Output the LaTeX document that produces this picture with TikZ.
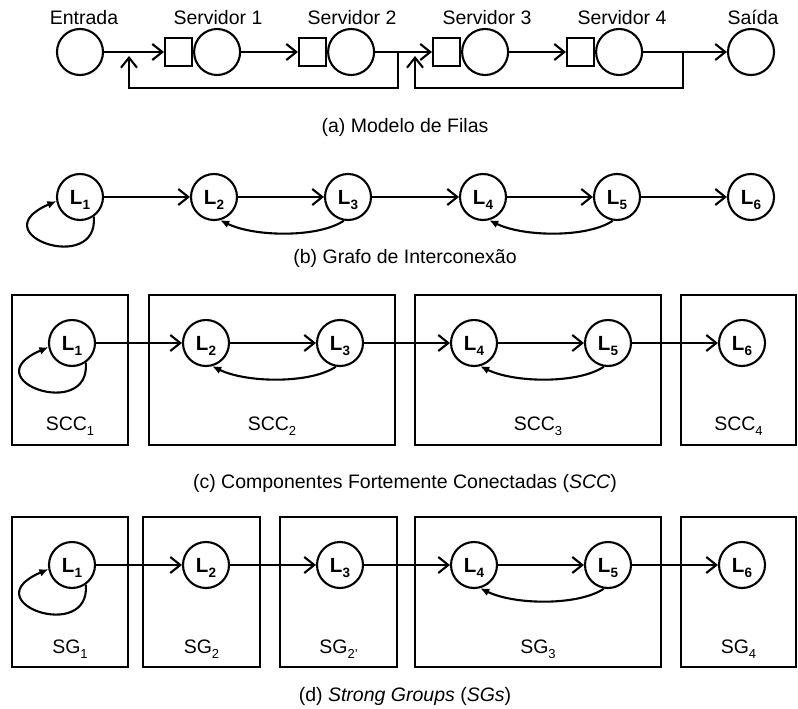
\documentclass[tikz,border=0pt]{standalone}
\usepackage{fontspec}
\setmainfont{Liberation Sans}
\usetikzlibrary{arrows.meta}
\newcommand\Lsub[1]{L\raisebox{-5pt}[0pt][0pt]{\fontsize{13.5}{14}\selectfont #1}}
\newcommand\Tsub[1]{\raisebox{-5pt}{\fontsize{13}{14}\selectfont #1}}
\begin{document}
\begin{tikzpicture}[x=1pt,y=-1pt,
  circ/.style={circle, draw, line width=2.1pt, minimum size=46pt, inner sep=0pt},
  sq/.style={rectangle, draw, line width=2.1pt, minimum width=27pt, minimum height=28pt, inner sep=0pt},
  lnode/.style={circ, font=\fontsize{20.5}{20}\selectfont\bfseries},
  txt/.style={font=\fontsize{19.5}{22}\selectfont, anchor=base, inner sep=0pt},
  grp/.style={draw, line width=1.6pt, inner sep=0pt},
  fwd/.style={line width=2.1pt, -{Straight Barb[length=10pt,width=16pt]}},
  bck/.style={line width=2.1pt, -{Latex[length=9pt,width=8pt]}},
]
\useasboundingbox (0,0) rectangle (798,709);

% ---------------- (a) ----------------
\node[circ] (ent) at (80,52) {};
\node[sq] (q1) at (178.5,52) {};
\node[circ, anchor=west] (s1) at (q1.east) {};
\node[sq] (q2) at (312.5,52) {};
\node[circ, anchor=west] (s2) at (q2.east) {};
\node[sq] (q3) at (446.5,52) {};
\node[circ, anchor=west] (s3) at (q3.east) {};
\node[sq] (q4) at (580.5,52) {};
\node[circ, anchor=west] (s4) at (q4.east) {};
\node[circ] (sai) at (751,52) {};

\node[txt] (tent) at (84,25) {Entrada};
\node[txt] (ts1) at (218,25) {Servidor 1};
\node[txt] (ts2) at (352,25) {Servidor 2};
\node[txt] (ts3) at (487,25) {Servidor 3};
\node[txt] (ts4) at (622,25) {Servidor 4};
\node[txt] (tsai) at (753,25) {Saída};

\coordinate (j1) at (398,52);
\coordinate (j1b) at (398,88);
\coordinate (f1b) at (129,88);
\coordinate (f1t) at (129,56);
\coordinate (j2) at (683,52);
\coordinate (j2b) at (683,88);
\coordinate (f2b) at (415,88);
\coordinate (f2t) at (415,56);

\draw[fwd] (ent) -- (q1);
\draw[fwd] (s1) -- (q2);
\draw[fwd] (s2) -- (q3);
\draw[fwd] (s3) -- (q4);
\draw[fwd] (s4) -- (sai);
\draw[fwd] (j1) -- (j1b) -- (f1b) -- (f1t);
\draw[fwd] (j2) -- (j2b) -- (f2b) -- (f2t);

\node[txt] (capa) at (405,132) {(a) Modelo de Filas};

% ---------------- (b) ----------------
\node[lnode] (b1) at (80,197) {\Lsub{1}};
\node[lnode] (b2) at (214,197) {\Lsub{2}};
\node[lnode] (b3) at (348,197) {\Lsub{3}};
\node[lnode] (b4) at (483,197) {\Lsub{4}};
\node[lnode] (b5) at (617,197) {\Lsub{5}};
\node[lnode] (b6) at (751,197) {\Lsub{6}};
\draw[fwd] (b1) -- (b2);
\draw[fwd] (b2) -- (b3);
\draw[fwd] (b3) -- (b4);
\draw[fwd] (b4) -- (b5);
\draw[fwd] (b5) -- (b6);
\draw[bck] (b1.-55) .. controls +(5,59) and +(-77,33) .. (b1.190);
\draw[bck] (b3.-100) .. controls +(-25,17) and +(35,17) .. (b2.-75);
\draw[bck] (b5.-100) .. controls +(-25,17) and +(35,17) .. (b4.-75);
\node[txt] (capb) at (405,263) {(b) Grafo de Interconexão};

% ---------------- (c) ----------------
\node[grp, minimum width=116pt, minimum height=150pt] (c1) at (70,370) {};
\node[grp, minimum width=246pt, minimum height=150pt] (c2) at (272,370) {};
\node[grp, minimum width=246pt, minimum height=150pt] (c3) at (538,370) {};
\node[grp, minimum width=115pt, minimum height=150pt] (c4) at (738.5,370) {};
\node[lnode] (cl1) at (72,343) {\Lsub{1}};
\node[lnode] (cl2) at (206,343) {\Lsub{2}};
\node[lnode] (cl3) at (340,343) {\Lsub{3}};
\node[lnode] (cl4) at (474,343) {\Lsub{4}};
\node[lnode] (cl5) at (608,343) {\Lsub{5}};
\node[lnode] (cl6) at (742,343) {\Lsub{6}};
\draw[fwd] (cl1) -- (cl2);
\draw[fwd] (cl2) -- (cl3);
\draw[fwd] (cl3) -- (cl4);
\draw[fwd] (cl4) -- (cl5);
\draw[fwd] (cl5) -- (cl6);
\draw[bck] (cl1.-55) .. controls +(5,59) and +(-77,33) .. (cl1.190);
\draw[bck] (cl3.-100) .. controls +(-25,17) and +(35,17) .. (cl2.-75);
\draw[bck] (cl5.-100) .. controls +(-25,17) and +(35,17) .. (cl4.-75);
\node[txt] (tc1) at (70,430) {SCC\Tsub{1}};
\node[txt] (tc2) at (272,430) {SCC\Tsub{2}};
\node[txt] (tc3) at (538,430) {SCC\Tsub{3}};
\node[txt] (tc4) at (738.5,430) {SCC\Tsub{4}};
\node[txt] (capc) at (405,488) {(c) Componentes Fortemente Conectadas (\textit{SCC})};

% ---------------- (d) ----------------
\node[grp, minimum width=116pt, minimum height=150pt] (d1) at (70,592) {};
\node[grp, minimum width=117pt, minimum height=150pt] (d2) at (201.5,592) {};
\node[grp, minimum width=117pt, minimum height=150pt] (d22) at (338.5,592) {};
\node[grp, minimum width=246pt, minimum height=150pt] (d3) at (538,592) {};
\node[grp, minimum width=115pt, minimum height=150pt] (d4) at (738.5,592) {};
\node[lnode] (dl1) at (72,565) {\Lsub{1}};
\node[lnode] (dl2) at (206,565) {\Lsub{2}};
\node[lnode] (dl3) at (340,565) {\Lsub{3}};
\node[lnode] (dl4) at (474,565) {\Lsub{4}};
\node[lnode] (dl5) at (608,565) {\Lsub{5}};
\node[lnode] (dl6) at (742,565) {\Lsub{6}};
\draw[fwd] (dl1) -- (dl2);
\draw[fwd] (dl2) -- (dl3);
\draw[fwd] (dl3) -- (dl4);
\draw[fwd] (dl4) -- (dl5);
\draw[fwd] (dl5) -- (dl6);
\draw[bck] (dl1.-55) .. controls +(5,59) and +(-77,33) .. (dl1.190);
\draw[bck] (dl5.-100) .. controls +(-25,17) and +(35,17) .. (dl4.-75);
\node[txt] (td1) at (70,653) {SG\Tsub{1}};
\node[txt] (td2) at (201.5,653) {SG\Tsub{2}};
\node[txt] (td22) at (338.5,653) {SG\Tsub{2'}};
\node[txt] (td3) at (538,653) {SG\Tsub{3}};
\node[txt] (td4) at (738.5,653) {SG\Tsub{4}};
\node[txt] (capd) at (405,701) {(d) \textit{Strong Groups} (\textit{SGs})};
\end{tikzpicture}
\end{document}
